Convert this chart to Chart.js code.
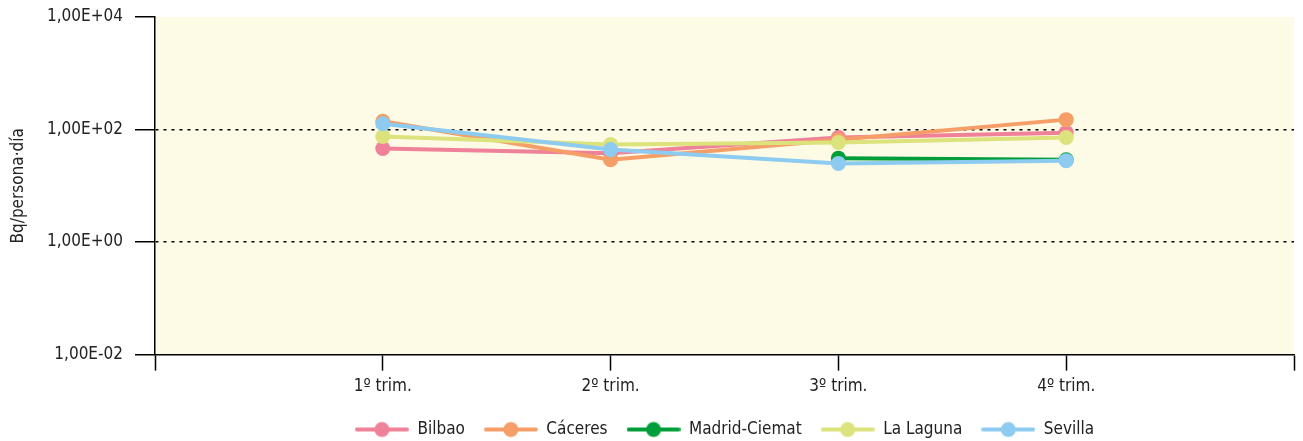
<!DOCTYPE html>
<html lang="es">
<head>
    <meta charset="UTF-8">
    <title>Bq/persona·día por trimestre</title>
    <script src="https://cdn.jsdelivr.net/npm/chart.js"></script>
    <style>
        body { margin: 0; background: #fff; }
        #wrap { width: 1303px; height: 441px; }
    </style>
</head>
<body>
    <div id="wrap">
        <canvas id="grafico" width="1303" height="441"></canvas>
    </div>

    <script>
        // Categorías (las posiciones vacías dejan el margen a ambos lados)
        const trimestres = ['', '1º trim.', '2º trim.', '3º trim.', '4º trim.', ''];

        // Valores (Bq/persona·día)
        const bilbao    = [null, 46, 38, 72, 88, null];
        const caceres   = [null, 140, 29, 66, 150, null];
        const madrid    = [null, null, null, 31, 29, null];
        const laLaguna  = [null, 75, 54, 59, 72, null];
        const sevilla   = [null, 127, 44, 25, 28, null];

        // Marcas del eje Y
        const marcasY = [0.01, 1, 100, 10000];

        const fuente = '"Liberation Sans Narrow", "DejaVu Sans Condensed", sans-serif';

        // formato tipo 1,00E+04
        function formatoE(v) {
            const e = Math.round(Math.log10(v));
            const m = (v / Math.pow(10, e)).toFixed(2).replace('.', ',');
            const s = e < 0 ? '-' : '+';
            return m + 'E' + s + String(Math.abs(e)).padStart(2, '0');
        }

        // icono de la leyenda: línea con círculo
        function iconoLeyenda(color) {
            const c = document.createElement('canvas');
            c.width = 54;
            c.height = 18;
            const g = c.getContext('2d');
            g.strokeStyle = color;
            g.lineWidth = 4;
            g.lineCap = 'round';
            g.beginPath();
            g.moveTo(2, 9);
            g.lineTo(52, 9);
            g.stroke();
            g.fillStyle = color;
            g.beginPath();
            g.arc(27, 9, 7.5, 0, Math.PI * 2);
            g.fill();
            return c;
        }

        function serie(nombre, datos, color, orden) {
            return {
                label: nombre,
                data: datos,
                borderColor: color,
                backgroundColor: color,
                pointBackgroundColor: color,
                pointBorderWidth: 0,
                pointRadius: 7.5,
                pointHoverRadius: 7.5,
                borderWidth: 4,
                tension: 0,
                spanGaps: false,
                order: orden,
                pointStyle: 'circle',
                icono: iconoLeyenda(color)
            };
        }

        // fondo amarillo del área de trazado
        const fondoArea = {
            id: 'fondoArea',
            beforeDraw(chart) {
                const a = chart.chartArea;
                const ctx = chart.ctx;
                ctx.save();
                ctx.fillStyle = '#fdfae5';
                ctx.fillRect(a.left, a.top, a.right - a.left, a.bottom - a.top);
                ctx.restore();
            }
        };

        // coloca la leyenda en su sitio
        const moverLeyenda = {
            id: 'moverLeyenda',
            afterLayout(chart) {
                const l = chart.legend;
                const h = l.bottom - l.top;
                l.top = 402;
                l.bottom = l.top + h;
            }
        };

        const ctx = document.getElementById('grafico').getContext('2d');
        new Chart(ctx, {
            type: 'line',
            data: {
                labels: trimestres,
                datasets: [
                    serie('Bilbao', bilbao, '#ef8199', 4),
                    serie('Cáceres', caceres, '#f59e67', 3),
                    serie('Madrid-Ciemat', madrid, '#009e3a', 2),
                    serie('La Laguna', laLaguna, '#dce27c', 1),
                    serie('Sevilla', sevilla, '#8ecbf0', 0)
                ]
            },
            options: {
                responsive: false,
                animation: false,
                layout: {
                    padding: { top: 17, right: 9, left: 0, bottom: -8 }
                },
                plugins: {
                    tooltip: { enabled: false },
                    legend: {
                        position: 'bottom',
                        fullSize: false,
                        labels: {
                            usePointStyle: true,
                            pointStyleWidth: 54,
                            padding: 19,
                            color: '#222',
                            font: { family: fuente, size: 17 },
                            generateLabels(chart) {
                                return chart.data.datasets.map((d, i) => ({
                                    text: d.label,
                                    fillStyle: d.borderColor,
                                    strokeStyle: d.borderColor,
                                    lineWidth: 0,
                                    pointStyle: d.icono,
                                    fontColor: '#222',
                                    hidden: false,
                                    datasetIndex: i
                                }));
                            }
                        }
                    }
                },
                scales: {
                    x: {
                        type: 'category',
                        offset: false,
                        grid: {
                            drawOnChartArea: false,
                            drawTicks: true,
                            tickLength: 16,
                            tickColor: '#000',
                            tickWidth: 1.5
                        },
                        border: { display: true, color: '#000', width: 1.5 },
                        ticks: {
                            autoSkip: false,
                            maxRotation: 0,
                            padding: 6,
                            color: '#222',
                            font: { family: fuente, size: 17 }
                        }
                    },
                    y: {
                        type: 'logarithmic',
                        min: 0.01,
                        max: 10000,
                        afterFit(scale) {
                            scale.width = 155;
                            scale.paddingTop = 0;
                            scale.paddingBottom = 0;
                        },
                        afterBuildTicks(scale) {
                            scale.ticks = marcasY.map(v => ({ value: v }));
                        },
                        grid: {
                            color: c => (c.tick && (c.tick.value === 1 || c.tick.value === 100)) ? '#000' : 'rgba(0,0,0,0)',
                            lineWidth: 1.5,
                            drawTicks: true,
                            tickLength: 20,
                            tickColor: '#000',
                            tickWidth: 1.5,
                            tickBorderDash: []
                        },
                        border: { display: true, color: '#000', width: 1.5, dash: [3, 5] },
                        ticks: {
                            padding: 12,
                            color: '#222',
                            font: { family: fuente, size: 17 },
                            callback: v => formatoE(v)
                        },
                        title: {
                            display: true,
                            text: 'Bq/persona·día',
                            color: '#222',
                            padding: { top: 8, bottom: 0 },
                            font: { family: fuente, size: 17 }
                        }
                    }
                }
            },
            plugins: [fondoArea, moverLeyenda]
        });
    </script>
</body>
</html>
